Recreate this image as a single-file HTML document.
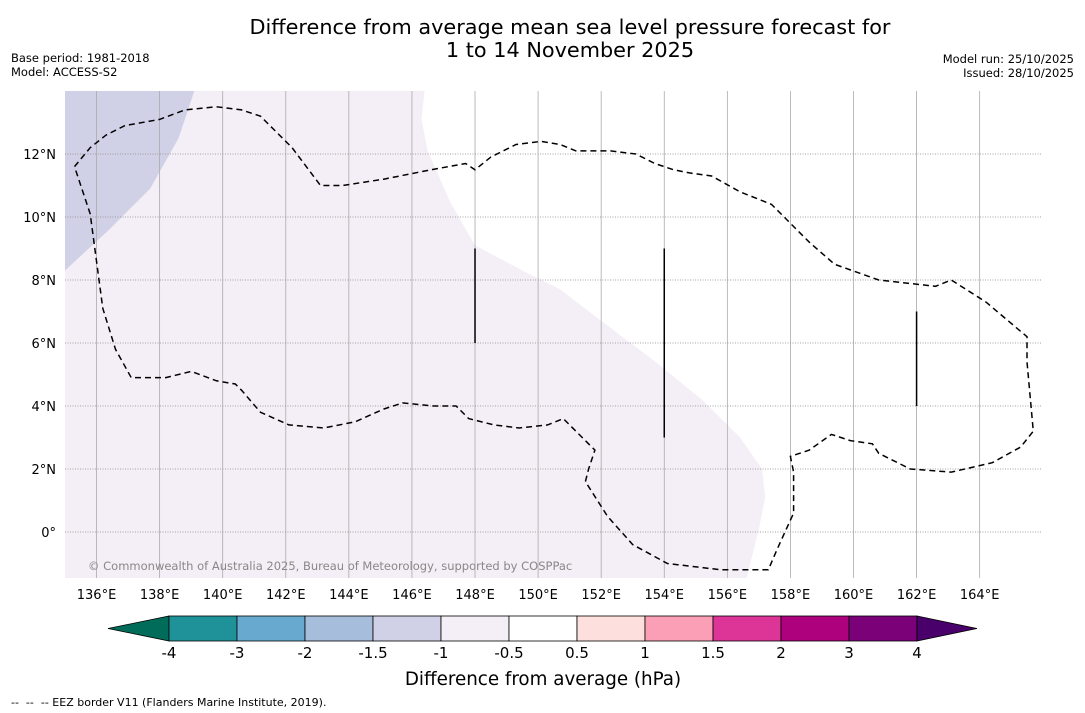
<!DOCTYPE html>
<html><head><meta charset="utf-8"><style>
html,body{margin:0;padding:0;background:#fff;}
svg{display:block;font-family:"DejaVu Sans","Liberation Sans",sans-serif;}
</style></head><body>
<svg id="chart" width="1085" height="713" viewBox="0 0 1085 713" xmlns="http://www.w3.org/2000/svg">
<text x="570" y="34" font-size="20.8" text-anchor="middle">Difference from average mean sea level pressure forecast for</text>
<text x="570" y="57" font-size="20.8" text-anchor="middle">1 to 14 November 2025</text>
<text x="11" y="62" font-size="11.5">Base period: 1981-2018</text>
<text x="11" y="76" font-size="11.5">Model: ACCESS-S2</text>
<text x="1074" y="63" font-size="11.5" text-anchor="end">Model run: 25/10/2025</text>
<text x="1074" y="77" font-size="11.5" text-anchor="end">Issued: 28/10/2025</text>
<defs><clipPath id="mapclip"><rect x="65" y="91" width="977" height="487"/></clipPath></defs>
<g id="map" clip-path="url(#mapclip)"></g>
<g id="grid"></g>
<g id="eez"></g>
<text x="88" y="570" font-size="11.5" fill="#888">© Commonwealth of Australia 2025, Bureau of Meteorology, supported by COSPPac</text>
<g id="xticks"></g>
<g id="yticks"></g>
<g id="cbar"></g>
<text x="543" y="685" font-size="18.3" text-anchor="middle">Difference from average (hPa)</text>
<text x="11" y="706" font-size="11" xml:space="preserve">--  --  -- EEZ border V11 (Flanders Marine Institute, 2019).</text>
</svg>
<script>
const lonTicks=[136,138,140,142,144,146,148,150,152,154,156,158,160,162,164];
const latTicks=[0,2,4,6,8,10,12];
const cbarLevels=[-4,-3,-2,-1.5,-1,-0.5,0.5,1,1.5,2,3,4];
const cbarLabels=["-4","-3","-2","-1.5","-1","-0.5","0.5","1","1.5","2","3","4"];
const cbarColors=["#1f9299","#67a9cf","#a6bddb","#d0d1e6","#f4eef6","#ffffff","#fde0dd","#fa9fb5","#dd3497","#ae017e","#7a0177"];
const cbarExtLow="#016c59", cbarExtHigh="#49006a";
const regionMinus05=[[146.4,14],[146.3,13.1],[146.5,12.1],[147.2,10.5],[148,9.1],[149.7,8.2],[150.7,7.7],[152,6.7],[153.6,5.5],[155.2,4.2],[156.4,3],[157.1,2],[157.2,1.1],[157,0.1],[156.6,-1.5],[135,-1.5],[135,14]];
const regionMinus1=[[135,14],[139.1,14],[138.6,12.5],[137.7,10.9],[136.4,9.6],[135,8.3]];
const eezMain=[[135.3,11.6],[135.8,12.2],[136.3,12.6],[136.9,12.9],[138,13.1],[138.8,13.4],[139.8,13.5],[140.6,13.4],[141.2,13.2],[142.2,12.2],[143.1,11.0],[143.8,11.0],[145.1,11.2],[146.6,11.5],[147.7,11.7],[148,11.5],[148.5,11.9],[149.3,12.3],[150.1,12.4],[150.7,12.3],[151.2,12.1],[151.7,12.1],[152.3,12.1],[153.1,12.0],[153.7,11.7],[154.3,11.5],[154.8,11.4],[155.5,11.3],[156.4,10.8],[157.4,10.4],[157.7,10.1],[158.6,9.2],[159.4,8.5],[160.8,8.0],[162.6,7.8],[163.1,8.0],[164.2,7.3],[165.5,6.2],[165.5,5.4],[165.7,3.2],[165.3,2.7],[164.4,2.2],[163.1,1.9],[161.8,2.0],[160.8,2.5],[160.6,2.8],[159.9,2.9],[159.3,3.1],[158.6,2.6],[158,2.4],[158.1,1.9],[158.1,0.6],[157.6,-0.5],[157.3,-1.2],[155.8,-1.2],[154.1,-1.0],[153,-0.4],[152.2,0.5],[151.5,1.6],[151.6,2.0],[151.8,2.6],[151.3,3.1],[150.8,3.6],[150.3,3.4],[149.4,3.3],[148.6,3.4],[147.8,3.6],[147.4,4.0],[146.7,4.0],[145.7,4.1],[145.1,3.9],[144.2,3.5],[143.2,3.3],[142.1,3.4],[141.2,3.8],[140.6,4.5],[140.4,4.7],[139.8,4.8],[139.0,5.1],[138.2,4.9],[137.1,4.9],[136.6,5.8],[136.2,7.1],[136,8.6],[135.8,10.1],[135.3,11.6]];
const eezTicks=[[148,9],[148,6],[154,9],[154,3],[162,7],[162,4]];
const NS="http://www.w3.org/2000/svg";
const X=lon=>65+(lon-135)*31.54;
const Y=lat=>91+(14-lat)*31.5;
function mk(tag,attrs,parent){const e=document.createElementNS(NS,tag);for(const k in attrs)e.setAttribute(k,attrs[k]);parent.appendChild(e);return e;}
const pts=a=>a.map(p=>X(p[0]).toFixed(1)+","+Y(p[1]).toFixed(1)).join(" ");
const map=document.getElementById('map');
let bg=mk('rect',{x:65,y:91,width:977,height:487,fill:"#ffffff"},map);


let r1=mk('polygon',{points:pts(regionMinus05),fill:"#f4eef6"},map);


let r2=mk('polygon',{points:pts(regionMinus1),fill:"#d0d1e6"},map);


const grid=document.getElementById('grid');
lonTicks.forEach(l=>{let e=mk('line',{x1:X(l),x2:X(l),y1:91,y2:578,stroke:"#aaa","stroke-width":0.8},grid);

});
latTicks.forEach(l=>{let e=mk('line',{x1:65,x2:1042,y1:Y(l),y2:Y(l),stroke:"#888","stroke-width":0.8,"stroke-dasharray":"1,1.5"},grid);

});
const eez=document.getElementById('eez');
let ep=mk('polyline',{points:pts(eezMain),fill:"none",stroke:"#000","stroke-width":1.5,"stroke-dasharray":"6,4"},eez);


for(let i=0;i<eezTicks.length;i+=2){let e=mk('line',{x1:X(eezTicks[i][0]),y1:Y(eezTicks[i][1]),x2:X(eezTicks[i+1][0]),y2:Y(eezTicks[i+1][1]),stroke:"#000","stroke-width":1.5},eez);

}
const xt=document.getElementById('xticks');
lonTicks.forEach(l=>{let t=mk('text',{x:X(l),y:599,"font-size":13,"text-anchor":"middle"},xt);t.textContent=l+"°E";

});
const yt=document.getElementById('yticks');
latTicks.forEach(l=>{let t=mk('text',{x:56,y:Y(l)+5,"font-size":13,"text-anchor":"end"},yt);t.textContent=l===0?"0°":l+"°N";

});
const cb=document.getElementById('cbar');
const cx0=169,cw=68,cy=616,ch=25;
const CX=i=>cx0+i*cw;
let lo=mk('polygon',{points:`108,${cy+ch/2} ${cx0},${cy} ${cx0},${cy+ch}`,fill:cbarExtLow,stroke:"#000","stroke-width":0.8},cb);


cbarColors.forEach((c,i)=>{let r=mk('rect',{x:CX(i),y:cy,width:cw,height:ch,fill:c,stroke:"#000","stroke-width":0.8},cb);

});
const xe=CX(cbarColors.length);
let hi=mk('polygon',{points:`${xe},${cy} ${xe+60},${cy+ch/2} ${xe},${cy+ch}`,fill:cbarExtHigh,stroke:"#000","stroke-width":0.8},cb);


cbarLevels.forEach((v,i)=>{let t=mk('text',{x:CX(i),y:658,"font-size":15,"text-anchor":"middle"},cb);t.textContent=cbarLabels[i];

});
</script>
</body></html>
